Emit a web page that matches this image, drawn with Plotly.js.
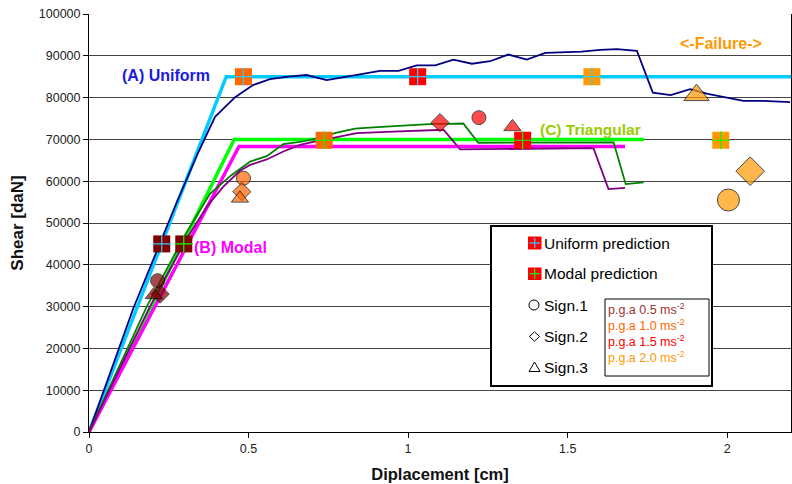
<!DOCTYPE html>
<html>
<head>
<meta charset="utf-8">
<script src="https://cdn.plot.ly/plotly-3.0.1.min.js"></script>
<style>
html,body{margin:0;padding:0;background:#fff;}
#chart{width:792px;height:484px;}
</style>
</head>
<body>
<div id="chart"></div>
<script>
// ---- Data ----
// Prediction (capacity) curves
const uniformPredDisp = [0, 0.43, 2.2];
const uniformPredShear = [0, 85000, 85000];
const triangularPredDisp = [0, 0.455, 1.74];
const triangularPredShear = [0, 70000, 70000];
const modalPredDisp = [0, 0.47, 1.68];
const modalPredShear = [0, 68300, 68300];

// Experimental / pushover curves
const uniformExpDisp = [0, 0.139, 0.278, 0.34, 0.395, 0.458, 0.514, 0.567, 0.625, 0.682, 0.745, 0.80, 0.855, 0.912, 0.970, 1.027, 1.085, 1.142, 1.2, 1.257, 1.314, 1.372, 1.43, 1.487, 1.544, 1.602, 1.654, 1.717, 1.767, 1.823, 1.884, 1.939, 1.994, 2.051, 2.114, 2.197];
const uniformExpShear = [0, 29600, 55500, 66500, 75400, 80100, 83000, 84400, 85000, 85400, 84200, 84900, 85700, 86400, 86400, 87700, 87700, 89100, 88100, 88700, 90300, 89100, 90700, 90800, 91000, 91400, 91600, 91200, 81200, 80600, 82000, 80900, 80100, 79200, 79200, 78900];
const triangularExpDisp = [0, 0.181, 0.30, 0.379, 0.447, 0.505, 0.557, 0.609, 0.661, 0.719, 0.776, 0.834, 0.891, 0.954, 1.017, 1.079, 1.126, 1.173, 1.22, 1.644, 1.682, 1.738];
const triangularExpShear = [0, 30000, 47000, 57000, 61500, 64700, 66000, 68900, 69400, 70300, 71600, 72600, 72900, 73200, 73400, 73700, 73700, 73800, 69200, 69300, 59300, 59700];
const modalExpDisp = [0, 0.191, 0.30, 0.369, 0.421, 0.473, 0.505, 0.557, 0.609, 0.661, 0.703, 0.776, 0.839, 0.933, 1.027, 1.111, 1.163, 1.581, 1.628, 1.68];
const modalExpShear = [0, 30000, 45500, 53900, 58700, 62500, 63900, 65200, 67100, 68700, 69400, 70600, 71500, 71800, 72100, 72300, 67600, 67900, 58100, 58400];

// Peak ground accelerations
const pgaLabels = ['0.5', '1.0', '1.5', '2.0'];
const pgaColors = ['#800000', '#FF6600', '#FF0000', '#FF9900'];
const pgaTextColors = ['#993333', '#FF6600', '#FF0000', '#FF9900'];

// Predicted points per pga
const uniformPointDisp = [0.228, 0.484, 1.030, 1.576];
const uniformPointShear = [45000, 85000, 85000, 85000];
const modalPointDisp = [0.297, 0.737, 1.359, 1.98];
const modalPointShear = [45000, 69800, 69800, 69800];

// Signals per pga
const sign1Disp = [0.215, 0.484, 1.222, 2.004];
const sign1Shear = [36200, 60700, 75200, 55500];
const sign2Disp = [0.223, 0.479, 1.100, 2.072];
const sign2Shear = [33000, 57500, 74000, 62400];
const sign3Disp = [0.203, 0.473, 1.327, 1.904];
const sign3Shear = [32800, 55900, 73000, 80600];

// Axis ticks
const xTicks = [0, 0.5, 1, 1.5, 2];
const xTickText = ['0', '0.5', '1', '1.5', '2'];
const yTicks = [0, 10000, 20000, 30000, 40000, 50000, 60000, 70000, 80000, 90000, 100000];

// ---- Styling helpers ----
const L = 89, R = 791, T = 14, B = 432;
const px = v => (v - L) / (R - L);
const py = v => (B - v) / (B - T);
const FONT = 'Liberation Sans, Arial, sans-serif';

const sigSizes = [14, 14, 14, 22];
const sigLine = {color: '#000', width: 1};

const traces = [
  {x: uniformPredDisp, y: uniformPredShear, mode: 'lines', line: {color: '#00CCFF', width: 3.5}, hoverinfo: 'skip'},
  {x: triangularPredDisp, y: triangularPredShear, mode: 'lines', line: {color: '#00FF00', width: 3.5}, hoverinfo: 'skip'},
  {x: modalPredDisp, y: modalPredShear, mode: 'lines', line: {color: '#FF00FF', width: 3.5}, hoverinfo: 'skip'},
  {x: uniformExpDisp, y: uniformExpShear, mode: 'lines', line: {color: '#000080', width: 1.8}},
  {x: triangularExpDisp, y: triangularExpShear, mode: 'lines', line: {color: '#008000', width: 1.8}},
  {x: modalExpDisp, y: modalExpShear, mode: 'lines', line: {color: '#800080', width: 1.8}},
  // prediction points: square + plus
  {x: uniformPointDisp, y: uniformPointShear, mode: 'markers', marker: {symbol: 'square', size: 17, color: pgaColors, line: {width: 0}}},
  {x: uniformPointDisp, y: uniformPointShear, mode: 'markers', marker: {symbol: 'cross-thin-open', size: 13, color: '#33CCFF', line: {color: '#33CCFF', width: 1.2}}},
  {x: modalPointDisp, y: modalPointShear, mode: 'markers', marker: {symbol: 'square', size: 17, color: pgaColors, line: {width: 0}}},
  {x: modalPointDisp, y: modalPointShear, mode: 'markers', marker: {symbol: 'cross-thin-open', size: 13, color: '#00FF00', line: {color: '#00FF00', width: 1.2}}},
  // signals
  {x: sign1Disp, y: sign1Shear, mode: 'markers', marker: {symbol: 'circle', size: sigSizes, color: pgaColors, line: sigLine}},
  {x: sign2Disp, y: sign2Shear, mode: 'markers', marker: {symbol: 'diamond', size: sigSizes, color: pgaColors, line: sigLine}},
  {x: sign3Disp, y: sign3Shear, mode: 'markers', marker: {symbol: 'triangle-up', size: [15, 15, 15, 22], color: pgaColors, line: sigLine}}
];

// Legend box drawn as shapes & annotations
const shapes = [
  {type: 'rect', xref: 'paper', yref: 'paper', x0: px(491), x1: px(712), y0: py(386), y1: py(226), line: {color: '#000', width: 2}, fillcolor: '#fff', layer: 'above'},
  {type: 'rect', xref: 'paper', yref: 'paper', x0: px(605), x1: px(709), y0: py(376), y1: py(299), line: {color: '#000', width: 1}, fillcolor: 'rgba(0,0,0,0)', layer: 'above'},
  // legend squares
  {type: 'rect', xref: 'paper', yref: 'paper', x0: px(528), x1: px(541.5), y0: py(249.5), y1: py(236.5), line: {width: 0}, fillcolor: '#FF0000', layer: 'above'},
  {type: 'line', xref: 'paper', yref: 'paper', x0: px(529.5), x1: px(540), y0: py(243), y1: py(243), line: {color: '#33CCFF', width: 1.2}, layer: 'above'},
  {type: 'line', xref: 'paper', yref: 'paper', x0: px(534.75), x1: px(534.75), y0: py(248), y1: py(238), line: {color: '#33CCFF', width: 1.2}, layer: 'above'},
  {type: 'rect', xref: 'paper', yref: 'paper', x0: px(528), x1: px(541.5), y0: py(280), y1: py(267.5), line: {width: 0}, fillcolor: '#FF0000', layer: 'above'},
  {type: 'line', xref: 'paper', yref: 'paper', x0: px(529.5), x1: px(540), y0: py(273.7), y1: py(273.7), line: {color: '#00FF00', width: 1.2}, layer: 'above'},
  {type: 'line', xref: 'paper', yref: 'paper', x0: px(534.75), x1: px(534.75), y0: py(279), y1: py(268.5), line: {color: '#00FF00', width: 1.2}, layer: 'above'},
  // circle
  {type: 'circle', xref: 'paper', yref: 'paper', x0: px(529), x1: px(539), y0: py(310), y1: py(300), line: {color: '#000', width: 1}, fillcolor: 'rgba(0,0,0,0)', layer: 'above'},
  // diamond
  {type: 'path', xref: 'paper', yref: 'paper', path: `M ${px(529.5)} ${py(336.5)} L ${px(534.5)} ${py(331.8)} L ${px(539.5)} ${py(336.5)} L ${px(534.5)} ${py(341.2)} Z`, line: {color: '#000', width: 1}, fillcolor: 'rgba(0,0,0,0)', layer: 'above'},
  // triangle
  {type: 'path', xref: 'paper', yref: 'paper', path: `M ${px(529)} ${py(371.5)} L ${px(534.5)} ${py(362)} L ${px(540)} ${py(371.5)} Z`, line: {color: '#000', width: 1}, fillcolor: 'rgba(0,0,0,0)', layer: 'above'}
];

const ann = (text, x, y, color, size, bold, anchor) => ({
  text: bold ? '<b>' + text + '</b>' : text,
  xref: 'paper', yref: 'paper', x: px(x), y: py(y),
  xanchor: anchor || 'left', yanchor: 'middle', showarrow: false,
  font: {family: FONT, size: size, color: color}
});

const annotations = [
  ann('(A) Uniform', 120, 75, '#1A1AE0', 16, true),
  ann('(B) Modal', 192, 247, '#FF00FF', 16, true),
  ann('(C) Triangular', 538, 129.5, '#99CC00', 15.5, true),
  ann('<-Failure->', 720.5, 43.5, '#FF9900', 16, true, 'center'),
  ann('Uniform prediction', 542, 243, '#000', 15.5, false),
  ann('Modal prediction', 542, 273.5, '#000', 15.5, false),
  ann('Sign.1', 542, 305, '#000', 15.5, false),
  ann('Sign.2', 542, 336, '#000', 15.5, false),
  ann('Sign.3', 542, 367, '#000', 15.5, false)
];
pgaLabels.forEach((p, i) => {
  annotations.push(ann('p.g.a ' + p + ' ms<sup>-2</sup>', 606, 308.5 + i * 16.3, pgaTextColors[i], 12.5, false));
});

const layout = {
  width: 792, height: 484,
  margin: {l: L, r: 792 - R, t: T, b: 484 - B},
  paper_bgcolor: '#fff', plot_bgcolor: '#fff',
  showlegend: false,
  font: {family: FONT, size: 12, color: '#222'},
  xaxis: {
    range: [0, 2.2], tickvals: xTicks, ticktext: xTickText,
    showgrid: false, zeroline: false, showline: true, linecolor: '#000', linewidth: 1,
    ticks: 'outside', ticklen: 5, tickcolor: '#000',
    tickfont: {family: FONT, size: 12.5, color: '#222'},
    title: {text: '<b>Diplacement [cm]</b>', font: {family: FONT, size: 16.5, color: '#111'}, standoff: 13}
  },
  yaxis: {
    range: [0, 100000], tickvals: yTicks, tickformat: 'd',
    showgrid: true, gridcolor: '#444', gridwidth: 1, zeroline: false,
    showline: true, linecolor: '#000', linewidth: 1, mirror: true,
    ticks: 'outside', ticklen: 5, tickcolor: '#000',
    tickfont: {family: FONT, size: 12.5, color: '#222'},
    title: {text: '<b>Shear [daN]</b>', font: {family: FONT, size: 17, color: '#111'}, standoff: 10}
  },
  shapes: shapes,
  annotations: annotations
};

Plotly.newPlot('chart', traces, layout, {displayModeBar: false, staticPlot: true});
</script>
</body>
</html>
